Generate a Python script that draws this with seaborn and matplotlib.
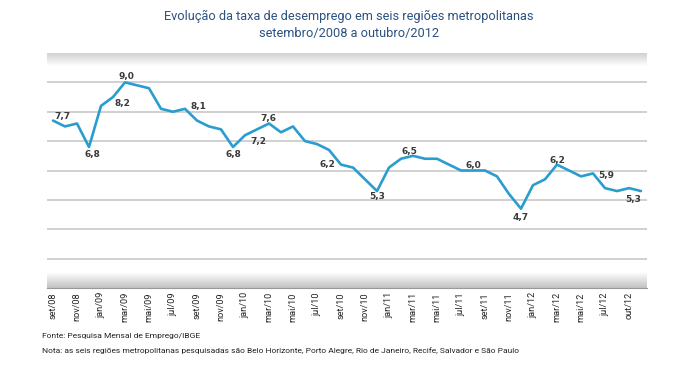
"""Taxa de desemprego em seis regioes metropolitanas, set/2008 a out/2012."""

import numpy as np
import matplotlib
matplotlib.use("Agg")
import matplotlib.pyplot as plt
import seaborn as sns
import pandas as pd

# --- data -----------------------------------------------------------------
months = [
    "set/08", "out/08", "nov/08", "dez/08", "jan/09", "fev/09", "mar/09",
    "abr/09", "mai/09", "jun/09", "jul/09", "ago/09", "set/09", "out/09",
    "nov/09", "dez/09", "jan/10", "fev/10", "mar/10", "abr/10", "mai/10",
    "jun/10", "jul/10", "ago/10", "set/10", "out/10", "nov/10", "dez/10",
    "jan/11", "fev/11", "mar/11", "abr/11", "mai/11", "jun/11", "jul/11",
    "ago/11", "set/11", "out/11", "nov/11", "dez/11", "jan/12", "fev/12",
    "mar/12", "abr/12", "mai/12", "jun/12", "jul/12", "ago/12", "set/12",
    "out/12",
]
rate = [
    7.7, 7.5, 7.6, 6.8, 8.2, 8.5, 9.0, 8.9, 8.8, 8.1,
    8.0, 8.1, 7.7, 7.5, 7.4, 6.8, 7.2, 7.4, 7.6, 7.3,
    7.5, 7.0, 6.9, 6.7, 6.2, 6.1, 5.7, 5.3, 6.1, 6.4,
    6.5, 6.4, 6.4, 6.2, 6.0, 6.0, 6.0, 5.8, 5.2, 4.7,
    5.5, 5.7, 6.2, 6.0, 5.8, 5.9, 5.4, 5.3, 5.4, 5.3,
]
tick_labels = [
    "set/08", "nov/08", "jan/09", "mar/09", "mai/09", "jul/09", "set/09",
    "nov/09", "jan/10", "mar/10", "mai/10", "jul/10", "set/10", "nov/10",
    "jan/11", "mar/11", "mai/11", "jul/11", "set/11", "nov/11", "jan/12",
    "mar/12", "mai/12", "jul/12", "out/12",
]
# months that carry a value label
label_months = ["set/08", "dez/08", "jan/09", "mar/09", "ago/09", "dez/09",
                "jan/10", "mar/10", "set/10", "dez/10", "mar/11", "ago/11",
                "dez/11", "mar/12", "jun/12", "out/12"]

df = pd.DataFrame({"mes": months, "taxa": rate})
df["pos"] = np.arange(len(df))

# label offsets in pixels (dx, dy), same order as label_months
label_offsets = [(9, 4), (3, -8), (21, 2), (1, 6), (13, 2), (0, -8),
                 (13, -6), (-1, 5), (-14, 0), (0, -5), (-4, 4), (0, 5),
                 (0, -9), (0, 4), (13, -2), (-8, -8)]

# --- style ----------------------------------------------------------------
sns.set_style("white")
plt.rcParams["font.family"] = ["Roboto", "DejaVu Sans"]

line_color = "#2b9ccf"
grid_color = "#c4c4c4"
title_color = "#2b5281"

fig = plt.figure(figsize=(6.94, 3.84), dpi=100)
ax = fig.add_axes([47 / 694, 1 - 288 / 384, 600 / 694, 235 / 384])

# shaded bands at top and bottom of the plot area
top = np.linspace(0.82, 1.0, 64).reshape(-1, 1)
ax.imshow(np.dstack([top, top, top]), extent=(0, 1, 0.945, 1.0),
          transform=ax.transAxes, aspect="auto", zorder=0,
          interpolation="bilinear", origin="upper")
bot = np.linspace(0.76, 1.0, 64).reshape(-1, 1)
ax.imshow(np.dstack([bot, bot, bot]), extent=(0, 1, 0.0, 0.065),
          transform=ax.transAxes, aspect="auto", zorder=0,
          interpolation="bilinear", origin="lower")

for yv in range(3, 10):
    ax.axhline(yv, color=grid_color, lw=1.1, zorder=1)

sns.lineplot(data=df, x="pos", y="taxa", color=line_color, lw=1.9,
             ax=ax, zorder=3)

for mes, (dx, dy) in zip(label_months, label_offsets):
    row = df[df["mes"] == mes].iloc[0]
    ax.annotate(f"{row['taxa']:.1f}".replace(".", ","),
                xy=(row["pos"], row["taxa"]), xytext=(dx, dy),
                textcoords="offset pixels", ha="center", va="center",
                fontsize=6.5, fontweight="bold", color="#3a3a3a",
                family="DejaVu Sans", zorder=4)

ax.set_xlim(-0.5, len(df) - 0.5)
ax.set_ylim(2, 10)
ax.set_yticks([])
ax.set_xticks(np.arange(0, 50, 2))
ax.set_xticklabels(tick_labels, rotation=90, fontsize=6.6, color="#222222")
ax.set_xticks(np.arange(1.5, 49, 2), minor=True)
ax.tick_params(axis="x", which="major", length=0, pad=3)
ax.tick_params(axis="x", which="minor", length=3, width=0.8,
               color="#888888", direction="out")
ax.set_xlabel("")
ax.set_ylabel("")
for s in ["left", "top", "right"]:
    ax.spines[s].set_visible(False)
ax.spines["bottom"].set_color("#999999")
ax.spines["bottom"].set_linewidth(0.8)

fig.text(349 / 694, 1 - 16.5 / 384,
         "Evolução da taxa de desemprego em seis regiões metropolitanas",
         ha="center", va="center", fontsize=9.2, color=title_color)
fig.text(349 / 694, 1 - 33.5 / 384, "setembro/2008 a outubro/2012",
         ha="center", va="center", fontsize=9.2, color=title_color)

fig.text(42 / 694, 1 - 336 / 384, "Fonte: Pesquisa Mensal de Emprego/IBGE",
         ha="left", va="center", fontsize=6.0, color="#222222")
fig.text(42 / 694, 1 - 350.5 / 384,
         "Nota: as seis regiões metropolitanas pesquisadas são Belo Horizonte, "
         "Porto Alegre, Rio de Janeiro, Recife, Salvador e São Paulo",
         ha="left", va="center", fontsize=6.0, color="#222222")

fig.savefig("out.png", dpi=100)
